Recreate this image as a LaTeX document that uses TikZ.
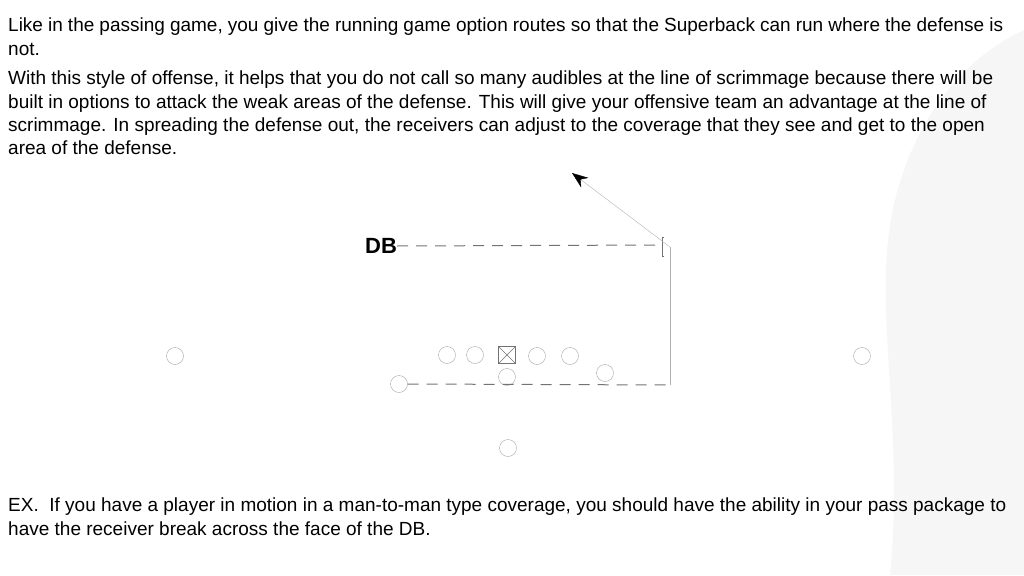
\documentclass[tikz,border=0pt]{standalone}
\usepackage{fontspec}
\setmainfont{Liberation Sans}
\usetikzlibrary{positioning, arrows.meta}
\tikzset{
  player/.style={circle, draw=gray!70, minimum size=17pt, inner sep=0pt},
  center/.style={rectangle, draw=gray!90!black, minimum size=17pt, inner sep=0pt},
  para/.style={anchor=north west, text width=1000pt, align=flush left, inner sep=0pt, font=\fontsize{19}{23.3}\selectfont,
    execute at begin node={\hyphenpenalty=10000 \exhyphenpenalty=10000 }},
  cover/.style={line width=1pt, dash pattern=on 11pt off 8pt, gray!90!black},
}
\begin{document}
\begin{tikzpicture}[x=1pt, y=-1pt]
    \useasboundingbox (0,0) rectangle (1024,575);
    % brush stroke in the background
    \fill[gray!7] (890,575) .. controls (905,420) and (870,300) .. (895,200)
        .. controls (915,120) and (960,60) .. (1024,30) -- (1024,575) -- cycle;

    % texts
    \node[para, text width=995pt] (p1) at (8,18) {Like in the passing game, you give the running game option routes so that the Superback can run where the defense is not.};
    \node[para] (p2) at (8,71) {With this style of offense, it helps that you do not call so many audibles at the line of scrimmage because there will be built in options to attack the weak areas of the defense. This will give your offensive team an advantage at the line of scrimmage. In spreading the defense out, the receivers can adjust to the coverage that they see and get to the open area of the defense.};
    \node[para, text width=1010pt] (ex) at (8,498) {EX.\ \ If you have a player in motion in a man-to-man type coverage, you should have the ability in your pass package to have the receiver break across the face of the DB.};

    % defense
    \node[font=\fontsize{22}{22}\selectfont\bfseries, inner sep=0pt] (db) at (381,246) {DB};
    \coordinate (dbend) at (662,245);
    \draw[cover] (db.east) -- (dbend);
    \draw[gray!90!black] (664,237) -- (662,237) -- (662,256) -- (664,256);

    % offense
    \node[player] (wl) at (175,356) {};
    \node[player] (lt) at (447,355) {};
    \node[player] (lg) at (475,355) {};
    \node[center] (c) at (507,355) {};
    \draw[gray!90!black] (c.north west) -- (c.south east) (c.north east) -- (c.south west);
    \node[player] (rg) at (537,356) {};
    \node[player] (rt) at (570,356) {};
    \node[player] (qb) at (507,377) {};
    \node[player] (sb) at (605,373) {};
    \node[player] (mo) at (399,384) {};
    \node[player] (wr) at (862,356) {};
    \node[player] (tb) at (508,448) {};

    % motion and route
    \coordinate (turn) at (672,385);
    \coordinate (cut) at (670,247);
    \coordinate (tip) at (572,173);
    \draw[cover] (mo.east) -- (turn);
    \draw[gray!60] (670,385) -- (cut);
    \draw[gray!60, -{Stealth[length=16pt, width=12pt, black]}] (cut) -- (tip);
\end{tikzpicture}
\end{document}
